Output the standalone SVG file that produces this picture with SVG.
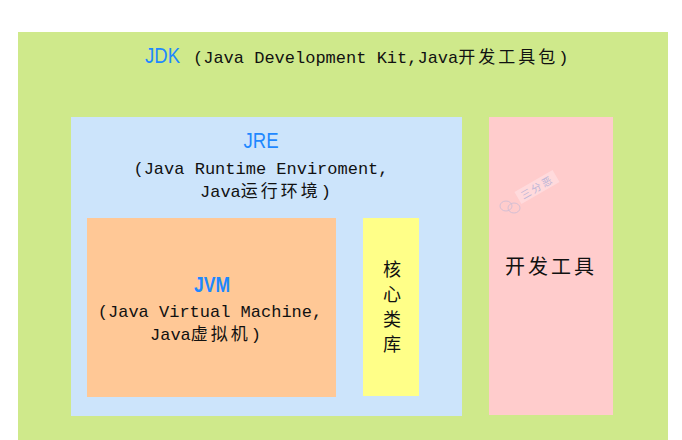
<svg xmlns="http://www.w3.org/2000/svg" width="682" height="440" viewBox="0 0 682 440">
<style>
.mono{font-family:"Liberation Mono","Noto Sans CJK SC",monospace;font-size:17px;fill:#111}
.cjk{font-family:"Noto Sans CJK SC","Noto Sans",sans-serif;fill:#111}
.title{font-family:"Liberation Sans","Noto Sans",sans-serif;font-size:22px;fill:#1e88ff}
</style>
<rect width="682" height="440" fill="#ffffff"/>
<g id="jdk">
<rect x="18" y="32" width="650" height="408" fill="#cfe98b"/>
<text x="145" y="63"><tspan class="title" textLength="35" lengthAdjust="spacingAndGlyphs">JDK</tspan><tspan class="mono" x="193">(Java Development Kit,Java<tspan letter-spacing="3">开发工具包</tspan>)</tspan></text>
</g>
<g id="jre">
<rect x="71" y="117" width="391" height="299" fill="#cce4fb"/>
<text class="title" x="261" y="148" text-anchor="middle" textLength="35" lengthAdjust="spacingAndGlyphs">JRE</text>
<text class="mono" x="261" y="174" text-anchor="middle">(Java Runtime Enviroment,</text>
<text class="mono" x="200" y="197">Java<tspan letter-spacing="3">运行环境</tspan>)</text>
</g>
<g id="jvm">
<rect x="87" y="218" width="249" height="179" fill="#ffc896"/>
<text class="title" x="212" y="292" text-anchor="middle" font-weight="bold" textLength="36" lengthAdjust="spacingAndGlyphs">JVM</text>
<text class="mono" x="210" y="317" text-anchor="middle">(Java Virtual Machine,</text>
<text class="mono" x="150" y="340">Java<tspan letter-spacing="3">虚拟机</tspan>)</text>
</g>
<g id="core-lib">
<rect x="363" y="218" width="56" height="178" fill="#ffff88"/>
<text class="cjk" font-size="18" text-anchor="middle"><tspan x="392" y="276">核</tspan><tspan x="392" y="301">心</tspan><tspan x="392" y="326">类</tspan><tspan x="392" y="351">库</tspan></text>
</g>
<g id="dev-tools">
<rect x="489" y="117" width="124" height="298" fill="#ffcccc"/>
<text class="cjk" font-size="20" x="551" y="274" text-anchor="middle" letter-spacing="3">开发工具</text>
</g>
<g id="watermark" opacity="0.55">
<g transform="rotate(-30 537 187)">
<rect x="515" y="180" width="44" height="14" fill="#ffe6ea"/>
<text x="537" y="191" text-anchor="middle" font-family="Noto Sans CJK SC,sans-serif" font-size="10" fill="#7f9fdf" letter-spacing="2">三分恶</text>
</g>
<ellipse cx="506" cy="206" rx="6" ry="5" fill="none" stroke="#9fb0dd" stroke-width="0.8"/>
<ellipse cx="514" cy="208" rx="6" ry="5" fill="none" stroke="#9fb0dd" stroke-width="0.8"/>
</g>
</svg>
